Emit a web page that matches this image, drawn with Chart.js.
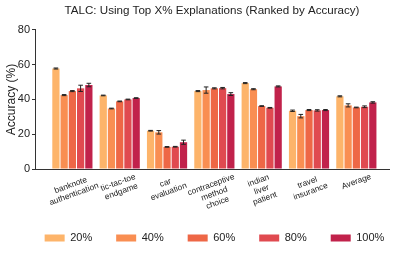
<!DOCTYPE html>
<html>
<head>
<meta charset="utf-8">
<script src="https://cdn.jsdelivr.net/npm/chart.js@4/dist/chart.umd.min.js"></script>
<style>
  html, body { margin: 0; padding: 0; background: #fff; }
  #wrap { width: 399px; height: 254px; }
</style>
</head>
<body>
<div id="wrap"><canvas id="c"></canvas></div>
<script>
const categories = [
  ["banknote", "authentication"],
  ["tic-tac-toe", "endgame"],
  ["car", "evaluation"],
  ["contraceptive", "method", "choice"],
  ["indian", "liver", "patient"],
  ["travel", "insurance"],
  ["Average"]
];
const seriesNames = ["20%", "40%", "60%", "80%", "100%"];
const colors = ["#FDB46A", "#F98E52", "#EE6746", "#E04A50", "#C1224B"];

// accuracy per category, one array per top-X% setting
const top20 = [57.8, 42.3, 22.0, 44.8, 49.4, 33.5, 41.8];
const top40 = [42.5, 34.8, 21.1, 45.4, 45.9, 30.4, 36.6];
const top60 = [44.8, 38.9, 12.7, 46.4, 36.2, 33.9, 35.4];
const top80 = [46.4, 40.0, 12.8, 46.5, 35.2, 33.7, 35.8];
const top100 = [48.3, 40.8, 15.4, 43.1, 47.5, 33.9, 38.3];

const err20 = [0.3, 0.2, 0.2, 0.3, 0.3, 0.4, 0.3];
const err40 = [0.3, 0.2, 1.0, 1.8, 0.3, 1.0, 0.9];
const err60 = [0.3, 0.2, 0.2, 0.3, 0.2, 0.3, 0.2];
const err80 = [1.8, 0.2, 0.2, 0.4, 0.2, 0.4, 0.5];
const err100 = [1.0, 0.2, 1.2, 0.8, 0.3, 0.3, 0.4];

const yTicks = [0, 20, 40, 60, 80];

const values = [top20, top40, top60, top80, top100];
const errors = [err20, err40, err60, err80, err100];

const FONT = "'Liberation Sans', Arial, sans-serif";
const LEGEND_PAD = 24;

// error bars with caps
const errorBars = {
  id: "errorBars",
  afterDatasetsDraw(chart) {
    const ctx = chart.ctx;
    const y = chart.scales.y;
    ctx.save();
    ctx.strokeStyle = "#222";
    ctx.lineWidth = 1;
    chart.data.datasets.forEach((ds, d) => {
      const meta = chart.getDatasetMeta(d);
      meta.data.forEach((bar, i) => {
        const v = values[d][i], e = errors[d][i];
        const x = bar.x;
        const yt = y.getPixelForValue(v + e);
        const yb = y.getPixelForValue(v - e);
        const cap = 2.3;
        ctx.beginPath();
        ctx.moveTo(x, yt); ctx.lineTo(x, yb);
        ctx.moveTo(x - cap, yt); ctx.lineTo(x + cap, yt);
        ctx.moveTo(x - cap, yb); ctx.lineTo(x + cap, yb);
        ctx.stroke();
      });
    });
    ctx.restore();
  }
};

// rotated, centre-aligned multi-line category labels
const xLabels = {
  id: "xLabels",
  afterDraw(chart) {
    const ctx = chart.ctx;
    const xs = chart.scales.x;
    const angle = 20 * Math.PI / 180;
    const lh = 9.5;
    const top = chart.chartArea.bottom + 3;
    ctx.save();
    ctx.font = "8.3px " + FONT;
    ctx.fillStyle = "#222";
    ctx.textAlign = "center";
    ctx.textBaseline = "middle";
    categories.forEach((lines, i) => {
      const w = Math.max(...lines.map(l => ctx.measureText(l).width));
      const h = lines.length * lh;
      const bh = w * Math.sin(angle) + h * Math.cos(angle);
      const cx = xs.getPixelForValue(i);
      const cy = top + bh / 2;
      ctx.save();
      ctx.translate(cx, cy);
      ctx.rotate(-angle);
      lines.forEach((l, k) => {
        ctx.fillText(l, 0, (k - (lines.length - 1) / 2) * lh);
      });
      ctx.restore();
    });
    ctx.restore();
  }
};

// move the legend row to where the reference has it
const legendShift = {
  id: "legendShift",
  afterLayout(chart) {
    const lg = chart.legend;
    const dx = 214.5 - (lg.left + lg.right) / 2;
    const dy = (238 - LEGEND_PAD - 5.5) - lg.top;
    lg.left += dx; lg.right += dx;
    lg.top += dy; lg.bottom += dy;
  }
};

new Chart(document.getElementById("c"), {
  type: "bar",
  data: {
    datasets: seriesNames.map((name, d) => ({
      label: name,
      data: values[d].map((v, i) => ({ x: i, y: v })),
      backgroundColor: colors[d],
      borderWidth: 0,
      categoryPercentage: 0.87,
      barPercentage: 0.88
    }))
  },
  options: {
    responsive: true,
    maintainAspectRatio: false,
    animation: false,
    layout: { padding: { left: 0, right: 10, top: 0, bottom: 0 } },
    plugins: {
      title: {
        display: true,
        fullSize: false,
        text: "TALC: Using Top X% Explanations (Ranked by Accuracy)",
        color: "#222",
        font: { family: FONT, size: 11.6, weight: "normal" },
        padding: { top: 4, bottom: 12 }
      },
      legend: {
        position: "bottom",
        labels: {
          boxWidth: 20,
          boxHeight: 7,
          padding: LEGEND_PAD,
          color: "#222",
          font: { family: FONT, size: 11 }
        }
      },
      tooltip: { enabled: false }
    },
    scales: {
      x: {
        type: "linear",
        offset: false,
        min: -0.79,
        max: 6.69,
        afterBuildTicks(s) { s.ticks = categories.map((c, i) => ({ value: i })); },
        ticks: { display: false },
        grid: { display: false, offset: false },
        border: { color: "#333", width: 1 },
        afterFit(s) { s.height = 40; }
      },
      y: {
        min: 0,
        max: 80,
        afterBuildTicks(s) { s.ticks = yTicks.map(v => ({ value: v })); },
        ticks: {
          color: "#222",
          padding: 2,
          font: { family: FONT, size: 11 }
        },
        grid: { drawOnChartArea: false, drawTicks: true, tickLength: 3, color: "#333" },
        border: { color: "#333", width: 1 },
        title: {
          display: true,
          text: "Accuracy (%)",
          color: "#222",
          font: { family: FONT, size: 12 },
          padding: { top: 4, bottom: 2 }
        },
        afterFit(s) { s.width = 35; s.paddingTop = 0; }
      }
    }
  },
  plugins: [errorBars, xLabels, legendShift]
});
</script>
</body>
</html>
